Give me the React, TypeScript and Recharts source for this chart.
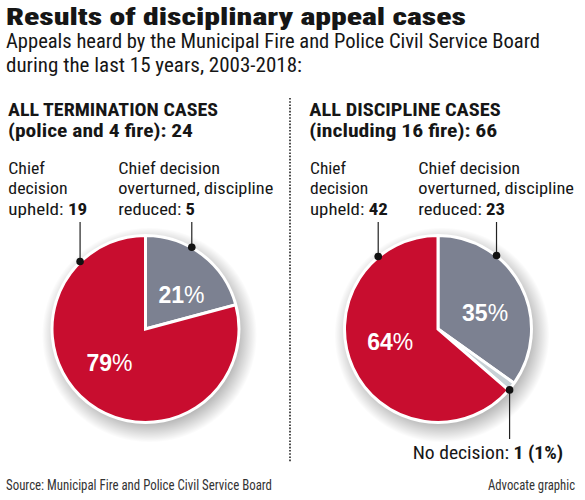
import React from 'react';
import { PieChart, Pie, Cell } from 'recharts';

// ---------- data ----------
const terminationCategories = ['Chief decision overturned, discipline reduced', 'Chief decision upheld'];
const terminationValues = [5, 19];
const terminationPctLabels = ['21', '79'];

const disciplineCategories = ['Chief decision overturned, discipline reduced', 'No decision', 'Chief decision upheld'];
const disciplineValues = [23, 1, 42];
const disciplinePctLabels = ['35', '', '64'];

const terminationColors = ['#7c8191', '#c80d2f'];
const disciplineColors = ['#7c8191', '#c7d0d5', '#c80d2f'];

// leader anchors: angle clockwise from 12 o'clock where the dot sits, and y where the line ends
const terminationLeaders = [
  { angle: 29.5, toY: 222 },
  { angle: 315.9, toY: 222 },
];
const disciplineLeaders = [
  { angle: 38.5, toY: 222 },
  { angle: 130.4, toY: 439 },
  { angle: 320.5, toY: 222 },
];

const terminationData = terminationCategories.map((name, i) => ({ name, value: terminationValues[i] }));
const disciplineData = disciplineCategories.map((name, i) => ({ name, value: disciplineValues[i] }));

const FONT = "'Liberation Sans Narrow', 'Roboto Condensed', 'DejaVu Sans Condensed', Roboto, 'Liberation Sans', sans-serif";
const RAD = Math.PI / 180;

// soft shadow settings
const SHADOW_DX = 4;
const SHADOW_DY = 6;
const SHADOW_SPREAD = 14;

function PieShadow({ id, cx, cy, r }: { id: string; cx: number; cy: number; r: number }) {
  const sr = r + SHADOW_SPREAD;
  return (
    <g>
      <defs>
        <radialGradient id={`${id}-grad`} cx="50%" cy="50%" r="50%">
          <stop offset={(r - 10) / sr} stopColor="#000" stopOpacity={0.34} />
          <stop offset={(r + 2) / sr} stopColor="#000" stopOpacity={0.17} />
          <stop offset={1} stopColor="#000" stopOpacity={0} />
        </radialGradient>
        <mask id={`${id}-mask`} maskUnits="userSpaceOnUse" x={0} y={0} width={585} height={500}>
          <rect x={0} y={0} width={585} height={500} fill="#fff" />
          <circle cx={cx} cy={cy} r={r + 1.5} fill="#000" />
        </mask>
      </defs>
      <circle
        cx={cx + SHADOW_DX}
        cy={cy + SHADOW_DY}
        r={sr}
        fill={`url(#${id}-grad)`}
        mask={`url(#${id}-mask)`}
      />
    </g>
  );
}

function makeLabel(id: string, pcts: string[], leaders: { angle: number; toY: number }[]) {
  return (props: any) => {
    const { cx, cy, outerRadius, midAngle, index } = props;
    const lead = leaders[index];
    const a = lead.angle * RAD;
    const dx = cx + (outerRadius + 0.5) * Math.sin(a);
    const dy = cy - (outerRadius + 0.5) * Math.cos(a);
    const ma = (midAngle - 9) * RAD;
    const r = outerRadius * 0.53;
    const tx = cx + r * Math.cos(ma);
    const ty = cy - r * Math.sin(ma);
    return (
      <g key={`lbl-${id}-${index}`}>
        {index === 0 ? <PieShadow id={id} cx={cx} cy={cy} r={outerRadius} /> : null}
        <line x1={dx} y1={dy} x2={dx} y2={lead.toY} stroke="#222" strokeWidth={1.2} />
        <circle cx={dx} cy={dy} r={3.8} fill="#111" />
        {pcts[index] ? (
          <text
            x={tx}
            y={ty}
            textAnchor="middle"
            dominantBaseline="central"
            fill="#fff"
            fontFamily="'Liberation Sans', Arial, sans-serif"
            fontSize={23}
            fontWeight={700}
          >
            {pcts[index]}
            <tspan fontWeight={400}>%</tspan>
          </text>
        ) : null}
      </g>
    );
  };
}

type Seg = { t: string; b?: boolean };
type Line = { x: number; y: number; w: number; size: number; weight?: number; segs: Seg[]; color?: string };

const textLines: Line[] = [
  { x: 6, y: 24.5, w: 460, size: 24, weight: 900, segs: [{ t: 'Results of disciplinary appeal cases' }] },
  { x: 6, y: 47.5, w: 534, size: 19.5, segs: [{ t: 'Appeals heard by the Municipal Fire and Police Civil Service Board' }] },
  { x: 6, y: 71.5, w: 296, size: 19.5, segs: [{ t: 'during the last 15 years, 2003-2018:' }] },

  { x: 8, y: 115.5, w: 210, size: 18, weight: 700, segs: [{ t: 'ALL TERMINATION CASES' }] },
  { x: 8, y: 137, w: 185, size: 18, weight: 700, segs: [{ t: '(police and 4 fire): 24' }] },
  { x: 8.3, y: 173.5, w: 36.7, size: 17, segs: [{ t: 'Chief' }] },
  { x: 8.3, y: 194, w: 59.4, size: 17, segs: [{ t: 'decision' }] },
  { x: 8.3, y: 214.5, w: 79, size: 17, segs: [{ t: 'upheld: ' }, { t: '19', b: true }] },
  { x: 118.3, y: 173.5, w: 101.7, size: 17, segs: [{ t: 'Chief decision' }] },
  { x: 118.3, y: 194, w: 155, size: 17, segs: [{ t: 'overturned, discipline' }] },
  { x: 118.3, y: 214.5, w: 76.7, size: 17, segs: [{ t: 'reduced: ' }, { t: '5', b: true }] },

  { x: 309.3, y: 115.5, w: 191.4, size: 18, weight: 700, segs: [{ t: 'ALL DISCIPLINE CASES' }] },
  { x: 309.3, y: 137, w: 188, size: 18, weight: 700, segs: [{ t: '(including 16 fire): 66' }] },
  { x: 310, y: 173.5, w: 36, size: 17, segs: [{ t: 'Chief' }] },
  { x: 310, y: 194, w: 58.3, size: 17, segs: [{ t: 'decision' }] },
  { x: 310, y: 214.5, w: 77.7, size: 17, segs: [{ t: 'upheld: ' }, { t: '42', b: true }] },
  { x: 418.3, y: 173.5, w: 101.7, size: 17, segs: [{ t: 'Chief decision' }] },
  { x: 418.3, y: 194, w: 155.7, size: 17, segs: [{ t: 'overturned, discipline' }] },
  { x: 418.3, y: 214.5, w: 86.7, size: 17, segs: [{ t: 'reduced: ' }, { t: '23', b: true }] },

  { x: 412.7, y: 459, w: 150.3, size: 18.5, segs: [{ t: 'No decision: ' }, { t: '1 (1%)', b: true }] },

  { x: 6, y: 490, w: 266, size: 14, segs: [{ t: 'Source: Municipal Fire and Police Civil Service Board' }], color: '#333' },
  { x: 488, y: 490, w: 87, size: 14, segs: [{ t: 'Advocate graphic' }], color: '#333' },
];

const LEFT_CX = 145.5;
const RIGHT_CX = 438;
const CY = 329;
const R = 93.5;

export default function App() {
  return (
    <div style={{ position: 'relative', width: 585, height: 500, background: '#fff' }}>
      <style>{`body{margin:0;background:#fff}`}</style>
      <PieChart width={585} height={500} margin={{ top: 0, right: 0, bottom: 0, left: 0 }}>
        <Pie
          data={terminationData}
          dataKey="value"
          nameKey="name"
          cx={LEFT_CX}
          cy={CY}
          outerRadius={R}
          startAngle={90}
          endAngle={-270}
          stroke="#fff"
          strokeWidth={3}
          labelLine={false}
          label={makeLabel('term', terminationPctLabels, terminationLeaders)}
          isAnimationActive={false}
        >
          {terminationData.map((d, i) => (
            <Cell key={d.name} fill={terminationColors[i]} />
          ))}
        </Pie>
        <Pie
          data={disciplineData}
          dataKey="value"
          nameKey="name"
          cx={RIGHT_CX}
          cy={CY}
          outerRadius={R}
          startAngle={90}
          endAngle={-270}
          stroke="#fff"
          strokeWidth={3}
          labelLine={false}
          label={makeLabel('disc', disciplinePctLabels, disciplineLeaders)}
          isAnimationActive={false}
        >
          {disciplineData.map((d, i) => (
            <Cell key={d.name} fill={disciplineColors[i]} />
          ))}
        </Pie>
      </PieChart>
      <svg
        width={585}
        height={500}
        style={{ position: 'absolute', left: 0, top: 0, pointerEvents: 'none' }}
      >
        <line x1={290} y1={98} x2={290} y2={462} stroke="#222" strokeWidth={1.6} strokeDasharray="1.6 1.6" />
        {textLines.map((l, i) => (
          <text
            key={i}
            x={l.x}
            y={l.y}
            fontFamily={FONT}
            fontSize={l.size}
            fontWeight={l.weight ?? 400}
            fill={l.color ?? '#161616'}
            textLength={l.w}
            lengthAdjust="spacingAndGlyphs"
          >
            {l.segs.map((s, j) => (
              <tspan key={j} fontWeight={s.b ? 700 : undefined}>
                {s.t}
              </tspan>
            ))}
          </text>
        ))}
      </svg>
    </div>
  );
}
